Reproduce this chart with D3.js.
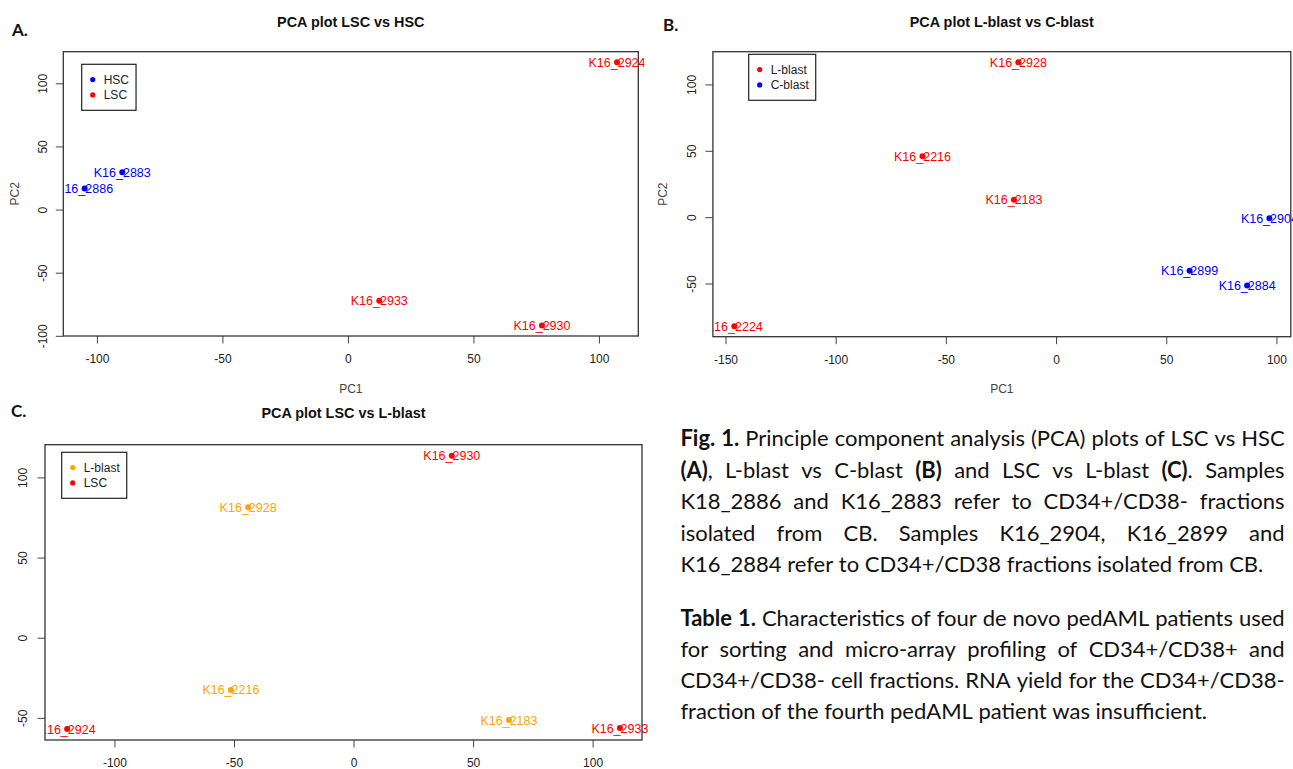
<!DOCTYPE html>
<html>
<head>
<meta charset="utf-8">
<script src="https://cdn.jsdelivr.net/npm/d3@7"></script>
<style>
  body { margin: 0; background: #fff; }
  svg { display: block; }
</style>
</head>
<body>
<svg id="fig" width="1293" height="769"></svg>
<script>
// ---------- Panel A: LSC vs HSC ----------
const samplesA = ["K16_2883", "K16_2886", "K16_2924", "K16_2933", "K16_2930"];
const groupsA  = ["HSC", "HSC", "LSC", "LSC", "LSC"];
const pc1A     = [-89.9, -104.9, 107.2, 12.5, 77.3];
const pc2A     = [29.6, 16.7, 116.7, -72.2, -91.8];
const legendA  = ["HSC", "LSC"];
const xTicksA  = [-100, -50, 0, 50, 100];
const yTicksA  = [-100, -50, 0, 50, 100];

// ---------- Panel B: L-blast vs C-blast ----------
const samplesB = ["K16_2928", "K16_2216", "K16_2183", "K16_2224", "K16_2904", "K16_2899", "K16_2884"];
const groupsB  = ["L-blast", "L-blast", "L-blast", "L-blast", "C-blast", "C-blast", "C-blast"];
const pc1B     = [-17.1, -60.6, -19.1, -146.0, 96.8, 60.6, 86.7];
const pc2B     = [116.7, 45.8, 13.1, -82.1, -0.8, -40.3, -51.4];
const legendB  = ["L-blast", "C-blast"];
const xTicksB  = [-150, -100, -50, 0, 50, 100];
const yTicksB  = [-50, 0, 50, 100];

// ---------- Panel C: LSC vs L-blast ----------
const samplesC = ["K16_2930", "K16_2933", "K16_2924", "K16_2928", "K16_2216", "K16_2183"];
const groupsC  = ["LSC", "LSC", "LSC", "L-blast", "L-blast", "L-blast"];
const pc1C     = [41.1, 111.4, -119.8, -44.1, -51.3, 65.0];
const pc2C     = [113.6, -56.4, -57.0, 81.4, -32.6, -51.4];
const legendC  = ["L-blast", "LSC"];
const xTicksC  = [-100, -50, 0, 50, 100];
const yTicksC  = [-50, 0, 50, 100];

// ---------- Caption text (** marks bold runs) ----------
const figCaption = [
  "**Fig. 1.** Principle component analysis (PCA) plots of LSC vs HSC",
  "**(A)**, L-blast vs C-blast **(B)** and LSC vs L-blast **(C)**. Samples",
  "K18_2886 and K16_2883 refer to CD34+/CD38- fractions",
  "isolated from CB. Samples K16_2904, K16_2899 and",
  "K16_2884 refer to CD34+/CD38 fractions isolated from CB."
];
const tableCaption = [
  "**Table 1.** Characteristics of four de novo pedAML patients used",
  "for sorting and micro-array profiling of CD34+/CD38+ and",
  "CD34+/CD38- cell fractions. RNA yield for the CD34+/CD38-",
  "fraction of the fourth pedAML patient was insufficient."
];

const groupColor = { "HSC": "#0000ff", "LSC": "#ff0000", "C-blast": "#0000ff", "L-blast": "#ff0000" };
const groupColorC = { "LSC": "#ff0000", "L-blast": "#ffa500" };

const svg = d3.select("#fig");
const PLOT_FONT = "'Liberation Sans', Arial, Helvetica, sans-serif";
const TEXT_FONT = "Lato, 'Open Sans', sans-serif";
const plainNum = d => String(d);   // ASCII hyphen for negatives

// 4% padded range around the data
function padded(vals) {
  const [lo, hi] = d3.extent(vals);
  const d = hi - lo;
  return [lo - 0.04 * d, hi + 0.04 * d];
}

let clipId = 0;
function pcaPanel(cfg) {
  const { box, samples, groups, pc1, pc2, colors, legend, xTicks, yTicks,
          title, tag, yLabOff, xLabOff, showPC2, showPC1, legPos } = cfg;
  const g = svg.append("g");
  const x = d3.scaleLinear().domain(padded(pc1)).range([box.x0, box.x1]);
  const y = d3.scaleLinear().domain(padded(pc2)).range([box.y1, box.y0]);

  // title + panel tag
  g.append("text").attr("x", (box.x0 + box.x1) / 2).attr("y", title.y)
    .attr("text-anchor", "middle").attr("font-family", PLOT_FONT)
    .attr("font-weight", "bold").attr("font-size", 14.4).attr("fill", "#111")
    .text(title.text);
  g.append("text").attr("x", tag.x).attr("y", tag.y)
    .attr("font-family", TEXT_FONT).attr("font-weight", "bold")
    .attr("font-size", 17).attr("fill", "#111").text(tag.text);

  // x axis
  const xa = g.append("g").attr("transform", `translate(0,${box.y1})`)
    .call(d3.axisBottom(x).tickValues(xTicks).tickSize(7.5).tickFormat(plainNum));
  xa.select(".domain").remove();
  xa.selectAll(".tick line").attr("stroke", "#444");
  xa.selectAll(".tick text").attr("y", xLabOff).attr("dy", 0)
    .attr("font-family", PLOT_FONT).attr("font-size", 12).attr("fill", "#222");

  // y axis (labels parallel to axis)
  const ya = g.append("g").attr("transform", `translate(${box.x0},0)`)
    .call(d3.axisLeft(y).tickValues(yTicks).tickSize(7.5).tickFormat(plainNum));
  ya.select(".domain").remove();
  ya.selectAll(".tick line").attr("stroke", "#444");
  ya.selectAll(".tick text").attr("transform", "rotate(-90)")
    .attr("x", 0).attr("y", -yLabOff).attr("dy", 0).attr("text-anchor", "middle")
    .attr("font-family", PLOT_FONT).attr("font-size", 12).attr("fill", "#222");

  // axis titles
  if (showPC1) {
    g.append("text").attr("x", (box.x0 + box.x1) / 2).attr("y", showPC1)
      .attr("text-anchor", "middle").attr("font-family", PLOT_FONT)
      .attr("font-size", 12).attr("fill", "#444").text("PC1");
  }
  if (showPC2) {
    g.append("text").attr("transform", `translate(${showPC2},${(box.y0 + box.y1) / 2}) rotate(-90)`)
      .attr("text-anchor", "middle").attr("font-family", PLOT_FONT)
      .attr("font-size", 12).attr("fill", "#444").text("PC2");
  }

  // clip region for points and labels
  const cid = "clip" + (clipId++);
  g.append("clipPath").attr("id", cid).append("rect")
    .attr("x", box.x0).attr("y", box.y0)
    .attr("width", box.x1 - box.x0 + 6).attr("height", box.y1 - box.y0);
  const plot = g.append("g").attr("clip-path", `url(#${cid})`);

  const data = samples.map((s, i) => ({ s, grp: groups[i], a: pc1[i], b: pc2[i] }));
  plot.selectAll("circle").data(data).join("circle")
    .attr("cx", d => x(d.a)).attr("cy", d => y(d.b)).attr("r", 3)
    .attr("fill", d => colors[d.grp]);
  plot.selectAll("text.lab").data(data).join("text").attr("class", "lab")
    .attr("x", d => x(d.a)).attr("y", d => y(d.b)).attr("dy", "0.36em")
    .attr("text-anchor", "middle").attr("font-family", PLOT_FONT)
    .attr("font-size", 12.5).attr("fill", d => colors[d.grp]).text(d => d.s);

  // plot frame
  g.append("rect").attr("x", box.x0).attr("y", box.y0)
    .attr("width", box.x1 - box.x0).attr("height", box.y1 - box.y0)
    .attr("fill", "none").attr("stroke", "#333").attr("stroke-width", 1.3);

  // legend
  const lg = g.append("g").attr("transform", `translate(${box.x0 + legPos.dx},${box.y0 + legPos.dy})`);
  const items = lg.selectAll("g").data(legend).join("g")
    .attr("transform", (d, i) => `translate(0,${15.3 + i * 15.3})`);
  items.append("circle").attr("cx", 11).attr("cy", 0).attr("r", 2.6).attr("fill", d => colors[d]);
  const lt = items.append("text").attr("x", 22).attr("dy", "0.36em")
    .attr("font-family", PLOT_FONT).attr("font-size", 12).attr("fill", "#222").text(d => d);
  const maxW = d3.max(lt.nodes(), n => n.getComputedTextLength());
  lg.insert("rect", ":first-child").attr("x", 0).attr("y", 0)
    .attr("width", 22 + maxW + 7).attr("height", 46)
    .attr("fill", "#fff").attr("stroke", "#222").attr("stroke-width", 1.2);
}

pcaPanel({
  box: { x0: 63.3, x1: 638.3, y0: 51.7, y1: 336 },
  samples: samplesA, groups: groupsA, pc1: pc1A, pc2: pc2A, colors: groupColor,
  legend: legendA, xTicks: xTicksA, yTicks: yTicksA,
  title: { text: "PCA plot LSC vs HSC", y: 27 },
  tag: { text: "A.", x: 12, y: 36 },
  yLabOff: 16.2, xLabOff: 27, showPC1: 393, showPC2: 18.5,
  legPos: { dx: 18.4, dy: 12.6 }
});
pcaPanel({
  box: { x0: 712.9, x1: 1290.8, y0: 51.7, y1: 336.7 },
  samples: samplesB, groups: groupsB, pc1: pc1B, pc2: pc2B, colors: groupColor,
  legend: legendB, xTicks: xTicksB, yTicks: yTicksB,
  title: { text: "PCA plot L-blast vs C-blast", y: 27 },
  tag: { text: "B.", x: 663, y: 31 },
  yLabOff: 17, xLabOff: 27.3, showPC1: 393, showPC2: 666.5,
  legPos: { dx: 35.8, dy: 2.6 }
});
pcaPanel({
  box: { x0: 45, x1: 642, y0: 444.7, y1: 740 },
  samples: samplesC, groups: groupsC, pc1: pc1C, pc2: pc2C, colors: groupColorC,
  legend: legendC, xTicks: xTicksC, yTicks: yTicksC,
  title: { text: "PCA plot LSC vs L-blast", y: 418 },
  tag: { text: "C.", x: 11, y: 417 },
  yLabOff: 18, xLabOff: 26.5, showPC1: null, showPC2: null,
  legPos: { dx: 16.7, dy: 7.6 }
});

// ---------- Justified caption block ----------
function parseWords(line) {
  const segs = [];
  const re = /\*\*(.+?)\*\*/g;
  let last = 0, m;
  while ((m = re.exec(line))) {
    if (m.index > last) segs.push({ t: line.slice(last, m.index), b: false });
    segs.push({ t: m[1], b: true });
    last = re.lastIndex;
  }
  if (last < line.length) segs.push({ t: line.slice(last), b: false });
  const words = [];
  let cur = [];
  segs.forEach(s => {
    const parts = s.t.split(" ");
    parts.forEach((p, i) => {
      if (i > 0) { if (cur.length) words.push(cur); cur = []; }
      if (p.length) cur.push({ t: p, b: s.b });
    });
  });
  if (cur.length) words.push(cur);
  return words;
}

const cap = svg.append("g").attr("font-family", TEXT_FONT).attr("fill", "#111");
const textLeft = 680.4, textRight = 1284.6;

function measure(str, size) {
  const t = cap.append("text").attr("font-size", size).text(str);
  const w = t.node().getComputedTextLength();
  t.remove();
  return w;
}
// size the caption so its free-running last lines have the set widths
const probe = 20;
const k = ((574 / measure(figCaption[4], probe)) + (533 / measure(tableCaption[3], probe))) / 2;
const capSize = probe * k;
const spaceW = measure("x x", capSize) - measure("xx", capSize);

function drawParagraph(lines, y0, lead) {
  lines.forEach((line, li) => {
    const words = parseWords(line);
    const y = y0 + li * lead;
    const nodes = words.map(w => {
      const t = cap.append("text").attr("y", y).attr("font-size", capSize);
      w.forEach(s => t.append("tspan").attr("font-weight", s.b ? "bold" : "normal").text(s.t));
      return t;
    });
    const widths = nodes.map(n => n.node().getComputedTextLength());
    const isLast = li === lines.length - 1;
    const gap = isLast ? spaceW
      : (textRight - textLeft - d3.sum(widths)) / (words.length - 1);
    let xPos = textLeft;
    nodes.forEach((n, i) => { n.attr("x", xPos); xPos += widths[i] + gap; });
  });
}
drawParagraph(figCaption, 446, 31.6);
drawParagraph(tableCaption, 625.5, 31.3);
</script>
</body>
</html>
